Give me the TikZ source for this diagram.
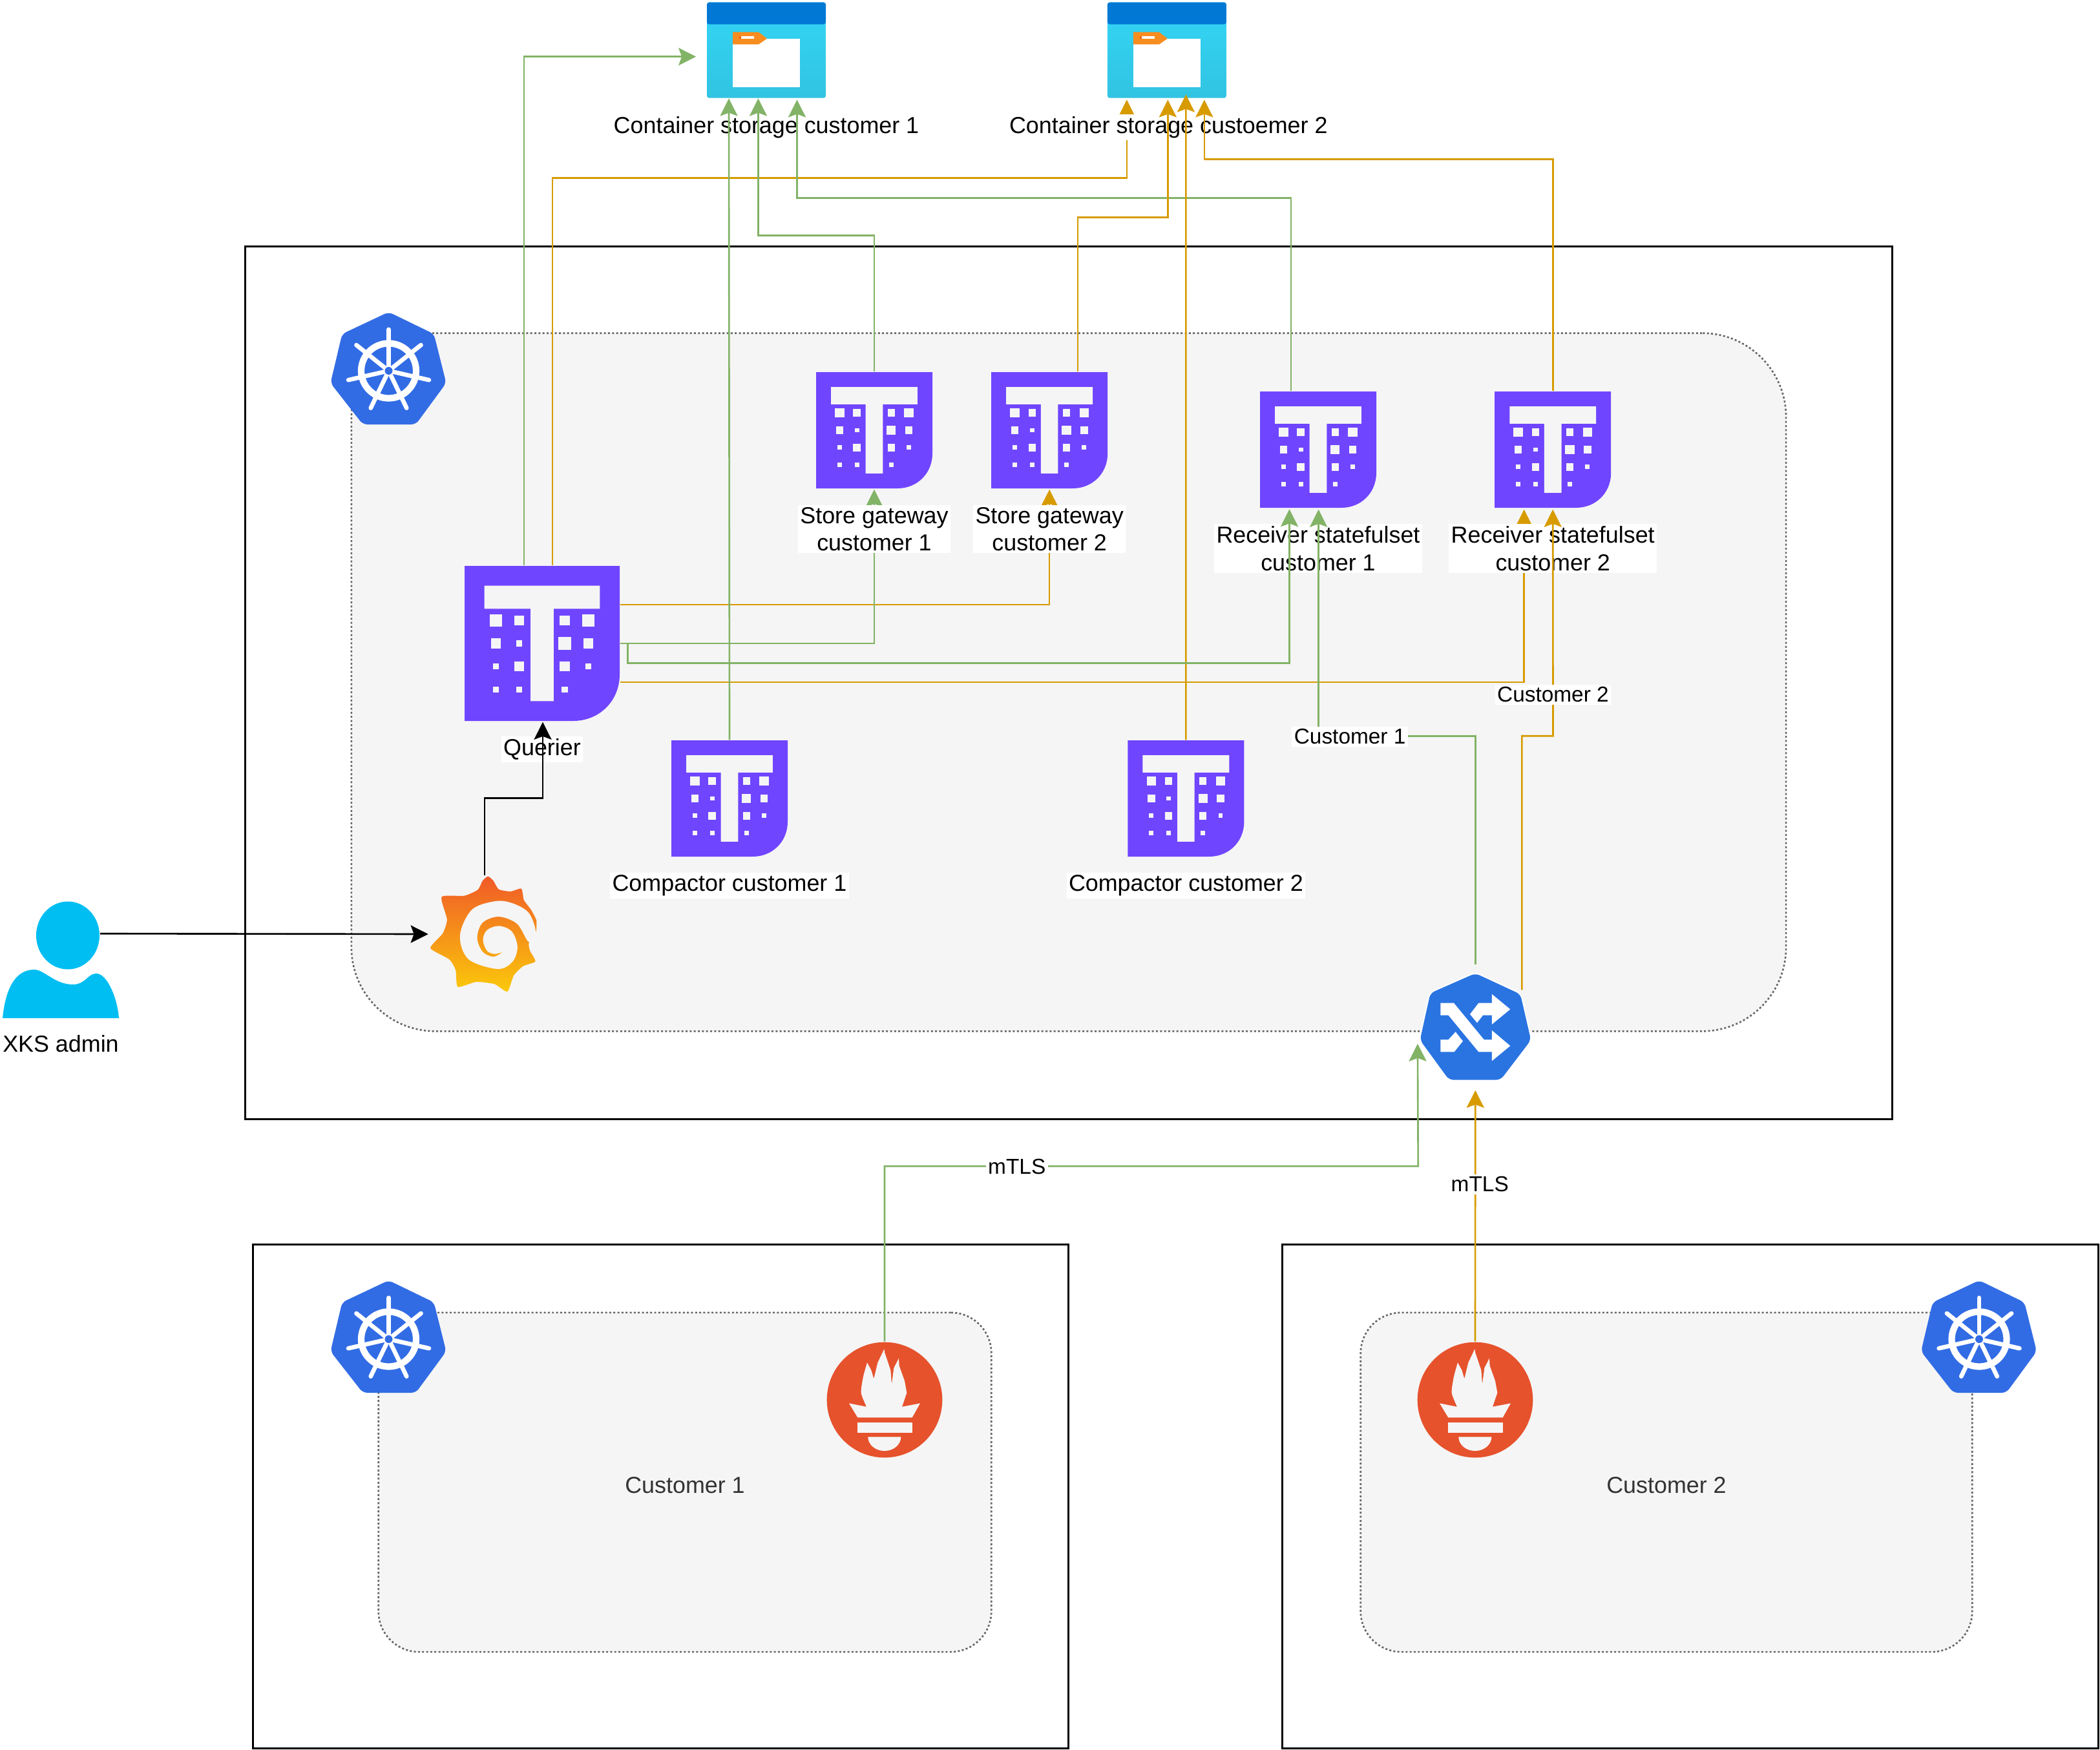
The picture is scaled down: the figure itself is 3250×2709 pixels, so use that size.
\documentclass[tikz,border=0pt]{standalone}
\usepackage{fontspec}
\setmainfont{Liberation Sans}
\usetikzlibrary{calc}
\usetikzlibrary{arrows.meta}
\definecolor{custone}{HTML}{82B366}
\definecolor{custtwo}{HTML}{D79B00}
\definecolor{panelgrey}{HTML}{F5F5F5}
\definecolor{kubeblue}{HTML}{326CE5}
\definecolor{nginxblue}{HTML}{2A74E2}
\definecolor{thanospurple}{HTML}{7045FF}
\definecolor{promred}{HTML}{E6522C}
\definecolor{adminblue}{HTML}{00BEF2}
\definecolor{boxtop}{HTML}{33D6F6}
\definecolor{boxbottom}{HTML}{32C3E2}
\definecolor{boxhead}{HTML}{0078D4}
\definecolor{boxtag}{HTML}{F78D1E}
\definecolor{grafhigh}{HTML}{F05A28}
\definecolor{graflow}{HTML}{FBCA0A}
% icons, drawn inside their nodes, origin at the node centre
\newcommand{\thanosicon}[1]{
    \begin{scope}[x=#1*0.01cm,y=-#1*0.01cm]
        \fill[thanospurple] (-.5,-.5) -- (.5,-.5) -- (.5,.2) .. controls (.5,.37) and (.37,.5) .. (.2,.5) -- (-.5,.5) -- cycle;
        \fill[panelgrey] (-.372,-.372) -- (.372,-.372) -- (.372,-.223) -- (.074,-.223) -- (.074,.372) -- (-.074,.372) -- (-.074,-.223) -- (-.372,-.223) -- cycle;
        \foreach \cx/\cy/\sz in {-.298/-.149/.04,-.149/-.149/.032,.146/-.149/.032,.298/-.149/.04,
            -.298/0/.032,-.149/0/.019,.146/0/.04,.298/0/.032,
            -.298/.149/.019,-.149/.149/.032,.146/.149/.032,.298/.149/.019,
            -.298/.298/.019,-.149/.298/.019,.146/.298/.019}
            \fill[panelgrey] (\cx-\sz,\cy-\sz) rectangle (\cx+\sz,\cy+\sz);
    \end{scope}
}
\newcommand{\kubeicon}{
    \fill[kubeblue,rounded corners=2pt] (0,-91) -- (70,-57) -- (89,19) -- (42,83) -- (-40,83) -- (-90,19) -- (-72,-57) -- cycle;
    \draw[white,line width=2.9pt] (0,0) circle[radius=42.5];
    \foreach \ang in {0,1,2,3,4,5,6}
        \draw[white,line width=1.9pt,line cap=round] (0,0) -- ({64*sin(\ang*360/7)},{-64*cos(\ang*360/7)});
    \fill[kubeblue] (0,0) circle[radius=6];
}
\newcommand{\ingressicon}{
    \begin{scope}[x=0.01cm/3,y=-0.01cm/3]
        \draw[white,line width=1.2pt,rounded corners=2pt] (0,-250) -- (209,-153) -- (258,60) -- (117,245) -- (-122,245) -- (-257,60) -- (-209,-158) -- cycle;
        \fill[nginxblue,rounded corners=2pt] (0,-250) -- (209,-153) -- (258,60) -- (117,245) -- (-122,245) -- (-257,60) -- (-209,-158) -- cycle;
        \fill[white] (-162,-112) -- (-100,-112) -- (40,58) -- (77,58) -- (77,15) -- (162,87) -- (77,157) -- (77,115) -- (15,115) -- (-125,-55) -- (-162,-55) -- cycle;
        \fill[white] (-25,-60) -- (15,-112) -- (77,-112) -- (77,-153) -- (162,-83) -- (77,-13) -- (77,-55) -- (35,-55) -- (8,-20) -- cycle;
        \fill[white] (-162,58) -- (-125,58) -- (-92,22) -- (-58,65) -- (-98,115) -- (-162,115) -- cycle;
    \end{scope}
}
\newcommand{\promicon}{
    \begin{scope}[x=0.01cm/3,y=-0.01cm/3]
        \fill[promred] (0,0) circle[radius=268];
        \fill[panelgrey] plot[smooth,tension=.4] coordinates {(-84,32) (-109,-33) (-99,-108) (-81,-173)}
            -- (-62,-138) -- (-50,-98) -- (-32,-173) -- (-2,-236) -- (1,-218) -- (28,-138) -- (33,-73) -- (43,-148) -- (66,-193) -- (68,-158) -- (93,-88) -- (103,-33) -- (81,32)
            -- (165,16) -- (128,82) -- (-125,82) -- (-165,16) -- cycle;
        \fill[panelgrey] (-127,106) rectangle (128,152);
        \fill[panelgrey] (-77,172) -- (76,172) arc[start angle=0,end angle=180,x radius=76.5,y radius=65] -- cycle;
    \end{scope}
}
\newcommand{\grafanaicon}{
    \begin{scope}[x=0.01cm/3,y=-0.01cm/3]
        \shade[top color=grafhigh,bottom color=graflow] plot[smooth cycle,tension=.35] coordinates {(20,-268) (45,-248) (70,-208) (125,-198) (175,-211) (187,-158) (220,-113) (245,-63) (242,-8) (210,42) (215,77) (240,127) (183,149) (140,192) (110,267) (50,232) (-35,222) (-120,245) (-130,167) (-160,117) (-247,65) (-190,-3) (-170,-68) (-195,-173) (-90,-178) (-27,-206) (-5,-248)};
        \fill[panelgrey] plot[smooth cycle,tension=.55] coordinates {(242,-8) (210,-98) (135,-143) (55,-153) (-55,-113) (-110,7) (-70,117) (65,162) (135,127) (157,57) (130,-13) (70,-38) (15,-18) (-3,27) (15,77) (50,92) (85,85) (45,105) (-5,82) (-30,17) (-5,-53) (70,-81) (155,-48) (210,37)};
    \end{scope}
}
\newcommand{\storageicon}{
    \shade[top color=boxtop,bottom color=boxbottom,rounded corners=1pt] (-92,-74) rectangle (92,74);
    \fill[boxhead,rounded corners=1pt] (-92,-40) -- (-92,-74) -- (92,-74) -- (92,-40) -- cycle;
    \fill[white] (-52,-18) rectangle (52,57);
    \fill[boxtag] (-52,-28) -- (-12,-28) -- (1,-18) -- (-12,-9) -- (-52,-9) -- cycle;
    \fill[white] (-39,-22) rectangle (-19,-18);
    \fill[boxtag!70!red] (-42,-22) rectangle (-39,-18);
}
\newcommand{\adminicon}{
    \fill[adminblue] (11,-38) ellipse[x radius=49,y radius=52.5];
    \fill[adminblue] (-90,90) .. controls (-85,40) and (-68,15) .. (-41,15) .. controls (-25,15) and (-10,38) .. (19,38) .. controls (38,38) and (42,21) .. (55,21) .. controls (72,21) and (88,60) .. (90,90) -- cycle;
}
\tikzset{
    cluster/.style = {draw, rectangle, line width=.8pt, inner sep=0pt},
    panel/.style = {draw=black!60, fill=panelgrey, rectangle, line width=.75pt, dash pattern=on .85pt off .95pt, inner sep=0pt, text=black!80, font=\fontsize{10.2}{12}\selectfont},
    thanos/.style = {rectangle, inner sep=0pt, minimum size=#1*0.01cm, path picture={\thanosicon{#1}}},
    kube/.style = {rectangle, inner sep=0pt, minimum size=1.78cm, path picture={\kubeicon}},
    ingress/.style = {rectangle, inner sep=0pt, minimum width=1.82cm, minimum height=1.78cm, path picture={\ingressicon}},
    prom/.style = {rectangle, inner sep=0pt, minimum size=1.8cm, path picture={\promicon}},
    grafana/.style = {rectangle, inner sep=0pt, minimum width=1.66cm, minimum height=1.8cm, path picture={\grafanaicon}},
    storage/.style = {rectangle, inner sep=0pt, minimum width=1.84cm, minimum height=1.48cm, path picture={\storageicon}},
    admin/.style = {rectangle, inner sep=0pt, minimum size=1.8cm, path picture={\adminicon}},
    iconlabel/.style = {fill=white, inner sep=1pt, align=center, font=\fontsize{10.2}{12}\selectfont},
    edgelabel/.style = {fill=white, inner sep=1pt, yshift=-.3pt, font=\fontsize{9.5}{11}\selectfont},
    arrow/.style = {draw, line width=.75pt, -{Stealth[length=7.7pt,width=7.7pt,inset=1.4pt]}},
    greenarrow/.style = {arrow, draw=custone},
    orangearrow/.style = {arrow, draw=custtwo}
}
\begin{document}
\begin{tikzpicture}[x=0.01cm,y=-0.01cm]
            \useasboundingbox (0,0) rectangle (3250,2709);
            % clusters and their grey panels
            \node [cluster, minimum width=25.48cm, minimum height=13.5cm] (xks) at (1654,1057) {};
            \node [cluster, minimum width=12.62cm, minimum height=7.79cm] (clusterA) at (1022.5,2316.5) {};
            \node [cluster, minimum width=12.62cm, minimum height=7.79cm] (clusterB) at (2616,2316.5) {};
            \node [panel, rounded corners=1.3cm, minimum width=22.19cm, minimum height=10.8cm] (xkspanel) at (1654,1056) {};
            \node [panel, rounded corners=.63cm, minimum width=9.48cm, minimum height=5.25cm] (panelA) at (1060,2294.5) {\raisebox{-4.8pt}[0pt][0pt]{Customer 1}};
            \node [panel, rounded corners=.63cm, minimum width=9.46cm, minimum height=5.25cm] (panelB) at (2579,2294.5) {\raisebox{-4.8pt}[0pt][0pt]{Customer 2}};

            \node [kube] (kubexks) at (601.5,574) {};
            \node [kube] (kubeA) at (601.5,2073) {};
            \node [kube] (kubeB) at (3063,2073) {};

            \node [storage] (storageA) at (1186,77.7) {};
            \node [storage, right of=storageA, node distance=6.195cm] (storageB) {};

            \node [thanos=240] (querier) at (839,996) {};
            \node [thanos=180] (storeA) at (1353,666) {};
            \node [thanos=180, right of=storeA, node distance=2.71cm] (storeB) {};
            \node [thanos=180] (recA) at (2040,696) {};
            \node [thanos=180, right of=recA, node distance=3.63cm] (recB) {};
            \node [thanos=180] (compA) at (1129,1236) {};
            \node [thanos=180, right of=compA, node distance=7.06cm] (compB) {};

            \node [grafana] (graf) at (748.5,1446) {};
            \node [admin] (xksadmin) at (94,1486) {};
            \node [ingress] (nginx) at (2283.3,1590) {};
            \node [prom] (promA) at (1369,2167) {};
            \node [prom] (promB) at (2283,2167) {};

            % these run under the white of the labels
            \draw [orangearrow] ($(querier.north)+(16,0)$) -- ++(0,-600) -| ($(storageB.south)+(-62,2)$);
            \draw [orangearrow] ($(querier.east)+(0,-60)$) -| ($(storeB.south)+(0,1)$);
            \draw [greenarrow] (querier.east) -| ($(storeA.south)+(0,1)$);
            \draw [orangearrow] ($(querier.east)+(0,60)$) -| ($(recB.south)+(-44.5,2)$);

            \node [iconlabel, below of=storageA, node distance=1.19cm] (storageAtxt) {Container storage customer 1};
            \node [iconlabel, below of=storageB, node distance=1.19cm, xshift=.7pt] (storageBtxt) {Container storage custoemer 2};
            \node [iconlabel, below of=querier, node distance=1.64cm] (queriertxt) {Querier};
            \node [iconlabel, below of=storeA, node distance=1.53cm] (storeAtxt) {Store gateway\\customer 1};
            \node [iconlabel, below of=storeB, node distance=1.53cm] (storeBtxt) {Store gateway\\customer 2};
            \node [iconlabel, below of=recA, node distance=1.53cm] (recAtxt) {Receiver statefulset\\customer 1};
            \node [iconlabel, below of=recB, node distance=1.53cm] (recBtxt) {Receiver statefulset\\customer 2};
            \node [iconlabel, below of=compA, node distance=1.35cm] (compAtxt) {Compactor customer 1};
            \node [iconlabel, below of=compB, node distance=1.35cm] (compBtxt) {Compactor customer 2};
            \node [iconlabel, below of=xksadmin, node distance=1.3cm] (admintxt) {XKS admin};

            \draw [greenarrow] ($(querier.north)+(-28,0)$) |- ($(storageA.west)+(-16,10)$);
            \draw [greenarrow] (compA.north) -- ($(storageA.south)+(-58,0)$);
            \draw [greenarrow] (storeA.north) -- ++(0,-211) -| ($(storageA.south)+(-12.5,0)$);
            \draw [greenarrow] ($(recA.north)+(-42,0)$) -- ++(0,-299) -| ($(storageA.south)+(47.5,2)$);
            \draw [orangearrow] ($(storeB.north)+(44,0)$) -- ++(0,-239) -| ($(storageB.south)+(1.5,2)$);
            \draw [orangearrow] (compB.north) -- ($(storageB.south)+(29.5,-6)$);
            \draw [orangearrow] (recB.north) -- ++(0,-359) -| ($(storageB.south)+(58,2)$);

            \draw [greenarrow] (querier.east) -- ++(12,0) -- ++(0,30.5) -| ($(recA.south)+(-44.5,1.5)$);

            \draw [greenarrow] ($(nginx.north)+(0,-7)$) -- ++(0,-354) -- ++(-242.7,0) node [edgelabel, pos=.8] (custAtxt) {Customer 1} -- ($(recA.south)+(0.6,2)$);
            \draw [orangearrow] ($(nginx.north)+(72,32)$) -- ++(0,-393) -- ++(48.2,0) -- ($(recB.south)+(0,2)$) node [edgelabel, pos=.185] (custBtxt) {Customer 2};

            \draw [greenarrow] (promA.north) -- ++(0,-271) -- ++(825.7,0) node [edgelabel, pos=.248] (mtlsAtxt) {mTLS} -- ($(nginx.west)+(2.4,25.7)$);
            \draw [orangearrow] (promB.north) -- ($(nginx.south)+(0,8)$) node [edgelabel, pos=.628, xshift=2pt] (mtlsBtxt) {mTLS};

            \draw [arrow] ($(xksadmin.north)+(61,50)$) -- ($(graf.west)+(-2,0)$);
            \draw [arrow] ($(graf.north)+(1.5,0)$) -- ++(0,-120) -| ($(querier.south)+(1,1)$);
\end{tikzpicture}
\end{document}
